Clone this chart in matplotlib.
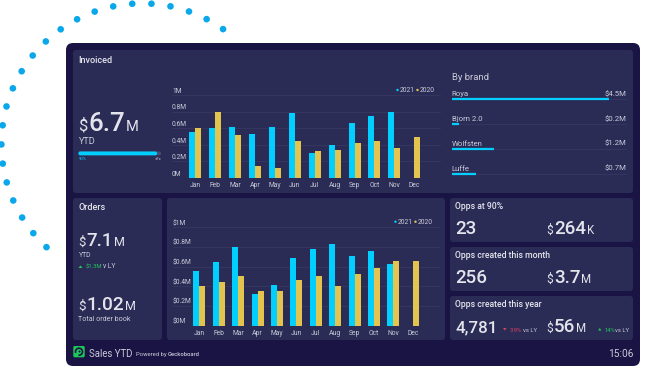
#!/usr/bin/env python3
import numpy as np
import matplotlib
matplotlib.use("Agg")
import matplotlib.pyplot as plt
from matplotlib.patches import FancyBboxPatch, Circle, Polygon, Arc

plt.rcParams['font.family'] = ['Roboto', 'DejaVu Sans']

months = ["Jan", "Feb", "Mar", "Apr", "May", "Jun", "Jul", "Aug", "Sep", "Oct", "Nov", "Dec"]

# Invoiced, in $M
invoiced_2021 = [0.55, 0.60, 0.61, 0.53, 0.62, 0.78, 0.30, 0.40, 0.66, 0.75, 0.80, 0]
invoiced_2020 = [0.60, 0.79, 0.52, 0.15, 0.12, 0.45, 0.32, 0.34, 0.42, 0.44, 0.36, 0.50]
invoiced_ticks = ["0M", "0.2M", "0.4M", "0.6M", "0.8M", "1M"]

# Orders, in $M
orders_2021 = [0.56, 0.65, 0.80, 0.32, 0.41, 0.69, 0.78, 0.83, 0.71, 0.76, 0.63, 0]
orders_2020 = [0.40, 0.44, 0.51, 0.35, 0.35, 0.46, 0.505, 0.40, 0.525, 0.59, 0.66, 0.66]
orders_ticks = ["$0M", "$0.2M", "$0.4M", "$0.6M", "$0.8M", "$1M"]
tick_values = [0, 0.2, 0.4, 0.6, 0.8, 1.0]

brands = ["Roya", "Bjorn 2.0", "Wolfsten", "Luffe"]
brand_values = [4.5, 0.2, 1.2, 0.7]
brand_labels = ["$4.5M", "$0.2M", "$1.2M", "$0.7M"]

BLUE = "#00CFFF"
YELLOW = "#E3C44F"
DOTS = "#0AA8EA"
OUTER = "#191443"
PANEL = "#2B2C56"
GRID = "#373863"
TEXT = "#E4E4EC"
MUTED = "#C9CAD8"
GREEN = "#22C55E"
RED = "#D9415F"

W, H = 648, 374
fig = plt.figure(figsize=(W / 100, H / 100), dpi=100)
bg = fig.add_axes([0, 0, 1, 1])
bg.set_xlim(0, W)
bg.set_ylim(H, 0)
bg.axis("off")


def box(x0, y0, x1, y1, color, r=3, z=1):
    bg.add_patch(FancyBboxPatch((x0 + r, y0 + r), x1 - x0 - 2 * r, y1 - y0 - 2 * r,
                                boxstyle=f"round,pad={r},rounding_size={r}",
                                fc=color, ec="none", zorder=z))


def label(x, y, s, size, color=TEXT, weight="normal", ha="left"):
    return bg.text(x, y, s, fontsize=size, color=color, fontweight=weight, ha=ha, va="baseline", zorder=5)


def metric(x, y, prefix, number, suffix, sizes, gap=0.8):
    # $ + big number + unit, each placed after the one before it
    renderer = fig.canvas.get_renderer()
    if prefix:
        t = label(x, y, prefix, sizes[0], TEXT)
        x = t.get_window_extent(renderer).x1 + gap
    t = label(x, y, number, sizes[1], TEXT, weight="medium")
    x = t.get_window_extent(renderer).x1 + gap
    if suffix:
        label(x, y, suffix, sizes[2], TEXT)


def bar_chart(left, right, xfirst, xstep, y_zero, y_top, v2021, v2020, ticks, tick_x):
    ax = fig.add_axes([left / W, 1 - y_zero / H, (right - left) / W, (y_zero - y_top) / H])
    ax.patch.set_alpha(0)
    ax.set_xlim((left - xfirst) / xstep, (right - xfirst) / xstep)
    ax.set_ylim(0, 1)
    x = np.arange(len(months))
    w = 6 / xstep
    ax.bar(x - w / 2, v2021, w, color=BLUE, zorder=3)
    ax.bar(x + w / 2, v2020, w, color=YELLOW, zorder=3)
    ax.set_yticks(tick_values)
    ax.set_yticklabels([])
    ax.set_xticks(x)
    ax.set_xticklabels(months, fontsize=4.9, color=MUTED)
    ax.tick_params(length=0, pad=3.2)
    ax.grid(axis="y", color=GRID, lw=0.6, zorder=0)
    for s in ax.spines.values():
        s.set_visible(False)
    ax.set_axisbelow(True)
    for v, t in zip(tick_values, ticks):
        label(tick_x, y_zero - v * (y_zero - y_top) - 2.3, t, 4.9, MUTED)


def legend(x, y):
    bg.add_patch(Circle((x, y), 1.2, fc=BLUE, ec="none", zorder=5))
    label(x + 2.5, y + 2, "2021", 4.9, MUTED)
    bg.add_patch(Circle((x + 20, y), 1.2, fc=YELLOW, ec="none", zorder=5))
    label(x + 22.5, y + 2, "2020", 4.9, MUTED)


# dotted arc behind the dashboard
for a in np.radians(np.linspace(54.8, 227.2, 23)):
    bg.add_patch(Circle((142 + 140.6 * np.cos(a), 144 - 140.6 * np.sin(a)), 3.3, fc=DOTS, ec="none", zorder=0))

box(66, 43, 640, 366, OUTER, r=7)
box(73, 50, 633, 193, PANEL)
box(73, 198, 162, 340, PANEL)
box(167, 198, 445, 340, PANEL)
box(450, 198, 633, 242, PANEL)
box(450, 247, 633, 291, PANEL)
box(450, 296, 633, 340, PANEL)

# Invoiced
label(78.5, 62.5, "Invoiced", 6.5, weight="medium")
metric(78.5, 130.7, "$", "6.7", "M", (12, 18.6, 10.5))
label(78.5, 144, "YTD", 6.6, MUTED)
box(78.5, 151.5, 161, 155.3, "#4A4B70", r=1.5, z=2)
box(78.5, 151.5, 157, 155.3, BLUE, r=1.5, z=3)
label(78.5, 159.5, "90%", 3, BLUE)
label(161, 159.5, "±7x", 3, MUTED, ha="right")

bar_chart(172, 441, 195, 19.94, 178, 95, invoiced_2021, invoiced_2020, invoiced_ticks, 172)
legend(397.5, 90)

# By brand
label(451.5, 80, "By brand", 6.8, MUTED)
for i, (b, v, t) in enumerate(zip(brands, brand_values, brand_labels)):
    y = 99 + i * 24.9
    label(451.5, y - 3, b, 5.6, MUTED)
    label(626, y - 3, t, 5.6, MUTED, ha="right")
    bg.plot([452, 626], [y, y], color=GRID, lw=0.6, zorder=3)
    bg.plot([452, 452 + v * 34.8], [y, y], color=BLUE, lw=1.6, solid_capstyle="butt", zorder=4)

# Orders
label(78.5, 210, "Orders", 6.5, weight="medium")
metric(78.5, 246, "$", "7.1", "M", (9.4, 13.5, 9))
label(78.5, 257, "YTD", 4.9, MUTED)
bg.add_patch(Polygon([(78.5, 268), (82.5, 268), (80.5, 265.5)], fc=GREEN, ec="none", zorder=5))
label(86, 268.5, "$1.3M", 4.2, GREEN)
label(102.8, 268.5, "v LY", 4.9, MUTED)
metric(78.5, 309.5, "$", "1.02", "M", (9.5, 13.7, 9))
label(78.5, 321, "Total order book", 5.1, MUTED)

bar_chart(173, 440, 199.3, 19.4, 325.7, 227.3, orders_2021, orders_2020, orders_ticks, 172.5)
legend(395.5, 221.7)

# Opps
label(455, 209, "Opps at 90%", 6.2, weight="medium")
label(455, 234, "23", 13.5, weight="medium")
metric(546.5, 234, "$", "264", "K", (8.6, 13.5, 8.3))

label(455, 258, "Opps created this month", 6.2, weight="medium")
label(455, 283, "256", 13.5, weight="medium")
metric(546.5, 283, "$", "3.7", "M", (8.6, 13.5, 8.3))

label(455, 307, "Opps created this year", 6.2, weight="medium")
label(455, 332, "4,781", 12.2, weight="medium")
bg.add_patch(Polygon([(503, 328), (506.5, 328), (504.75, 330.5)], fc=RED, ec="none", zorder=5))
label(509.7, 331.5, "3.9%", 4.2, RED)
label(522.7, 331.5, "vs LY", 4.2, MUTED)
metric(546.5, 332, "$", "56", "M", (8.6, 13.5, 8.3))
bg.add_patch(Polygon([(598, 330.5), (601.5, 330.5), (599.75, 328)], fc=GREEN, ec="none", zorder=5))
label(604.3, 331.5, "14%", 4.2, GREEN)
label(615, 331.5, "vs LY", 4.2, MUTED)

# Footer
box(73.3, 346, 84.7, 357.3, "#1FC75A", r=1.5, z=2)
bg.add_patch(Arc((79, 351.7), 7, 7, theta1=-200, theta2=100, ec=OUTER, lw=1.2, zorder=3))
bg.add_patch(Circle((79.5, 351.5), 1, fc=OUTER, ec="none", zorder=3))
label(89.2, 357, "Sales YTD", 6.9, MUTED)
label(135.7, 356, "Powered by", 4.2, MUTED)
label(168, 356, "Geckoboard", 4.2, MUTED, weight="medium")
label(633, 357, "15:06", 7.3, MUTED, ha="right")

fig.savefig("out.png", dpi=100)
plt.close(fig)
